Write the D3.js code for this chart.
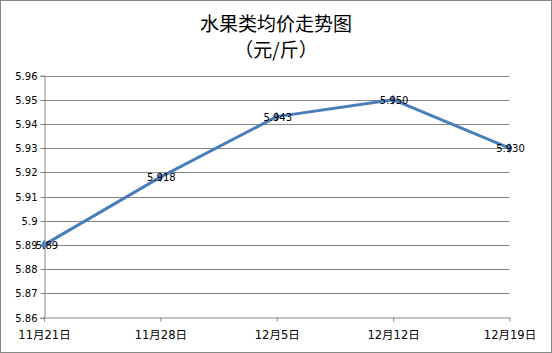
<!DOCTYPE html>
<html><head><meta charset="utf-8">
<script src="https://cdn.jsdelivr.net/npm/d3@7"></script>
<style>
html,body{margin:0;padding:0;background:#fff;}
svg{display:block;}
</style></head>
<body>
<svg id="c" width="552" height="353"></svg>
<script>
const categories = ["11月21日","11月28日","12月5日","12月12日","12月19日"];
const values = [5.89, 5.918, 5.943, 5.950, 5.930];
const valueLabels = ["5.89","5.918","5.943","5.950","5.930"];
const yTicks = [5.86,5.87,5.88,5.89,5.90,5.91,5.92,5.93,5.94,5.95,5.96];
const titleLines = ["水果类均价走势图","（元/斤）"];

const svg = d3.select("#c");
const W = 552, H = 353;
svg.append("rect").attr("x",0.5).attr("y",0.5).attr("width",W-1).attr("height",H-1)
  .attr("fill","#fff").attr("stroke","#868686");

const x = d3.scalePoint().domain(categories).range([44, 509.5]);
const y = d3.scaleLinear().domain([5.86, 5.96]).range([317.5, 75.5]);

const fontAxis = "'DejaVu Sans','Noto Sans CJK SC',sans-serif";

// gridlines
svg.append("g").selectAll("line").data(yTicks.slice(1)).join("line")
  .attr("x1",44).attr("x2",509.5)
  .attr("y1",d=>Math.round(y(d))+0.5).attr("y2",d=>Math.round(y(d))+0.5)
  .attr("stroke","#868686").attr("stroke-width",1);

// y axis
const yAxis = d3.axisLeft(y).tickValues(yTicks).tickSize(4).tickPadding(3)
  .tickFormat(d=>String(+d.toFixed(2)));
const gy = svg.append("g").attr("transform","translate(44.5,0)").call(yAxis);
gy.selectAll("path,line").attr("stroke","#868686");
gy.selectAll("text").attr("font-family",fontAxis).attr("font-size",10).attr("fill","#000");
gy.selectAll(".tick").attr("transform",d=>`translate(0,${Math.round(y(d))+0.5})`);

// x axis
const xAxis = d3.axisBottom(x).tickSize(4).tickPadding(9).tickSizeOuter(0);
const gx = svg.append("g").attr("transform","translate(0,317.5)").call(xAxis);
gx.selectAll("path,line").attr("stroke","#868686");
gx.selectAll("text").attr("font-family",fontAxis).attr("font-size",11.5).attr("fill","#000");

// line
const line = d3.line().x((d,i)=>x(categories[i])).y(d=>y(d));
svg.append("path").datum(values).attr("d",line)
  .attr("fill","none").attr("stroke","#4a7ebb").attr("stroke-width",3)
  .attr("stroke-linejoin","round");

// markers (small diamonds)
svg.append("g").selectAll("path").data(values).join("path")
  .attr("d",d3.symbol().type(d3.symbolDiamond).size(30))
  .attr("transform",(d,i)=>`translate(${x(categories[i])},${y(d)})`)
  .attr("fill","#4a7ebb");

// data labels
svg.append("g").selectAll("text").data(values).join("text")
  .attr("x",(d,i)=>x(categories[i])+(i===0?3:1)).attr("y",d=>y(d)+4)
  .attr("text-anchor","middle")
  .attr("font-family",fontAxis).attr("font-size",10).attr("fill","#000")
  .text((d,i)=>valueLabels[i]);

// title
svg.append("g").selectAll("text").data(titleLines).join("text")
  .attr("x",W/2).attr("y",(d,i)=>31+i*26)
  .attr("text-anchor","middle")
  .attr("font-family","'Noto Sans CJK SC',sans-serif").attr("font-size",19).attr("fill","#000")
  .text(d=>d);
</script>
</body></html>
